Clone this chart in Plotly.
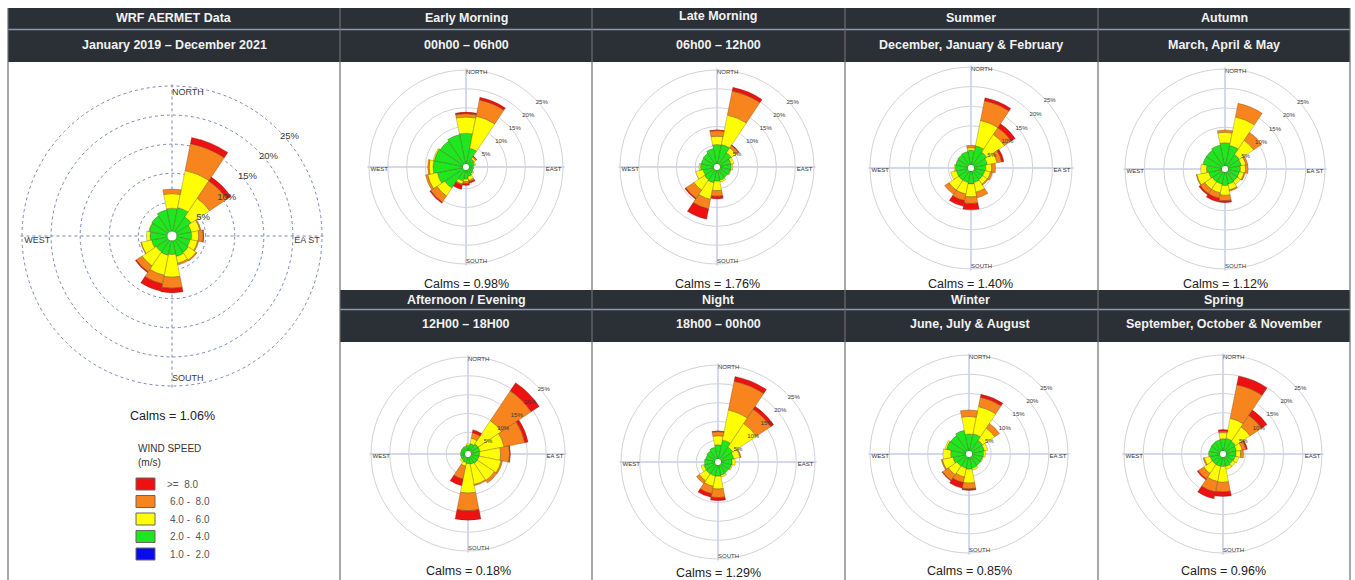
import plotly.graph_objects as go

W, H = 1355, 580

# ---------------- data ----------------
DIRECTIONS = ["N", "NNE", "NE", "ENE", "E", "ESE", "SE", "SSE",
              "S", "SSW", "SW", "WSW", "W", "WNW", "NW", "NNW"]
DIR_DEG = [0, 22.5, 45, 67.5, 90, 112.5, 135, 157.5,
           180, 202.5, 225, 247.5, 270, 292.5, 315, 337.5]

SPEED_CLASSES = [">=\u00a0\u00a08.0", "6.0 -\u00a0\u00a08.0", "4.0 -\u00a0\u00a06.0",
                 "2.0 -\u00a0\u00a04.0", "1.0 -\u00a0\u00a02.0"]
RING_VALUES = [5, 10, 15, 20, 25]
RING_LABELS = ["5%", "10%", "15%", "20%", "25%"]

# frequency (%) per direction, per speed class (2-4, 4-6, 6-8, >=8 m/s)
overall_2_4 = [4.0, 4.2, 3.2, 2.6, 2.6, 2.4, 2.6, 2.8, 2.4, 2.6, 2.5, 2.8, 3.0, 3.2, 3.4, 3.8]
overall_4_6 = [2.5, 6.5, 3.8, 1.5, 1.2, 1.3, 1.6, 1.2, 3.9, 3.5, 2.9, 1.8, 0.6, 0.1, 0.0, 0.0]
overall_6_8 = [0.8, 4.7, 3.6, 0.2, 0.8, 0.2, 0.2, 0.3, 1.9, 1.5, 1.2, 0.1, 0.0, 0.0, 0.0, 0.0]
overall_8p = [0.0, 1.1, 0.8, 0.0, 0.1, 0.0, 0.0, 0.0, 0.8, 1.3, 0.2, 0.0, 0.0, 0.0, 0.0, 0.0]

early_2_4 = [8.2, 4.3, 1.8, 1.5, 1.2, 1.2, 1.4, 1.8, 2.5, 3.0, 6.0, 7.0, 8.0, 7.8, 7.5, 8.0]
early_4_6 = [4.3, 8.7, 0.5, 0.3, 0.0, 0.0, 0.3, 1.0, 0.6, 0.8, 2.5, 2.6, 1.0, 0.3, 0.0, 0.0]
early_6_8 = [0.9, 4.4, 0.3, 0.0, 0.0, 0.0, 0.0, 0.4, 0.5, 0.3, 2.0, 0.6, 0.4, 0.0, 0.0, 0.0]
early_8p = [0.4, 0.7, 0.1, 0.0, 0.0, 0.0, 0.0, 0.4, 0.5, 1.2, 0.3, 0.0, 0.0, 0.0, 0.0, 0.0]

late_2_4 = [5.2, 5.3, 3.8, 3.0, 3.0, 2.8, 2.6, 2.8, 3.0, 3.5, 3.3, 3.0, 3.6, 3.5, 3.6, 4.2]
late_4_6 = [2.2, 8.0, 1.5, 0.8, 0.4, 0.2, 0.0, 0.5, 2.5, 4.5, 3.3, 2.0, 0.4, 0.0, 0.0, 0.0]
late_6_8 = [1.5, 6.5, 0.8, 0.0, 0.0, 0.0, 0.0, 0.0, 1.5, 2.6, 2.6, 0.0, 0.0, 0.0, 0.0, 0.0]
late_8p = [0.2, 1.0, 0.2, 0.0, 0.0, 0.0, 0.0, 0.0, 0.7, 2.8, 0.3, 0.0, 0.0, 0.0, 0.0, 0.0]

summer_2_4 = [3.8, 5.0, 4.1, 3.5, 3.0, 2.8, 2.8, 3.0, 3.3, 3.0, 3.0, 3.0, 3.2, 3.2, 3.3, 3.5]
summer_4_6 = [0.6, 6.6, 5.4, 2.5, 1.5, 1.5, 1.4, 2.5, 3.3, 3.0, 3.0, 1.5, 0.3, 0.0, 0.0, 0.0]
summer_6_8 = [0.6, 5.1, 2.1, 1.2, 1.0, 0.5, 0.3, 1.5, 1.7, 1.7, 1.3, 0.0, 0.0, 0.0, 0.0, 0.0]
summer_8p = [0.0, 0.8, 1.2, 0.6, 0.0, 0.0, 0.0, 0.0, 1.6, 1.5, 0.0, 0.0, 0.0, 0.0, 0.0, 0.0]

autumn_2_4 = [6.0, 5.4, 3.7, 3.5, 3.2, 3.0, 3.0, 3.2, 3.5, 3.2, 3.2, 3.5, 4.0, 5.0, 5.0, 5.5]
autumn_4_6 = [2.7, 7.5, 4.4, 1.2, 1.3, 1.2, 1.0, 1.5, 2.5, 2.3, 2.3, 3.1, 1.5, 0.0, 0.0, 0.0]
autumn_6_8 = [0.6, 3.6, 2.5, 0.5, 0.7, 0.3, 0.0, 0.3, 1.4, 1.4, 1.4, 0.2, 0.0, 0.0, 0.0, 0.0]
autumn_8p = [0.0, 0.0, 0.0, 0.0, 0.0, 0.0, 0.0, 0.0, 0.5, 1.0, 0.4, 0.0, 0.0, 0.0, 0.0, 0.0]

afternoon_2_4 = [1.5, 2.0, 2.5, 2.5, 2.3, 2.2, 2.2, 2.0, 1.8, 1.5, 1.3, 1.2, 1.2, 1.2, 1.3, 1.4]
afternoon_4_6 = [0.4, 1.5, 7.4, 6.5, 5.6, 6.0, 5.5, 5.5, 7.8, 1.0, 0.5, 0.0, 0.0, 0.0, 0.0, 0.0]
afternoon_6_8 = [0.0, 1.5, 9.5, 5.6, 2.4, 0.4, 0.8, 0.3, 4.7, 3.5, 0.0, 0.0, 0.0, 0.0, 0.0, 0.0]
afternoon_8p = [0.0, 0.8, 2.6, 0.9, 0.2, 0.0, 0.0, 0.0, 2.5, 1.8, 0.0, 0.0, 0.0, 0.0, 0.0, 0.0]

night_2_4 = [3.8, 5.2, 4.0, 3.5, 3.0, 2.8, 2.6, 2.8, 3.0, 3.0, 3.0, 3.0, 2.8, 2.6, 2.8, 3.2]
night_4_6 = [2.4, 8.1, 7.5, 1.7, 0.8, 0.3, 0.0, 0.5, 3.4, 2.8, 2.2, 0.8, 0.0, 0.0, 0.0, 0.0]
night_6_8 = [1.1, 7.8, 4.6, 0.3, 0.0, 0.0, 0.0, 0.0, 2.3, 2.0, 0.9, 0.0, 0.0, 0.0, 0.0, 0.0]
night_8p = [0.2, 1.3, 0.9, 0.0, 0.0, 0.0, 0.0, 0.0, 0.8, 1.0, 0.0, 0.0, 0.0, 0.0, 0.0, 0.0]

winter_2_4 = [4.4, 4.6, 3.5, 3.3, 3.0, 2.8, 2.8, 3.0, 3.2, 3.0, 3.0, 3.5, 4.0, 5.2, 5.0, 5.5]
winter_4_6 = [4.6, 7.2, 3.8, 0.9, 0.5, 0.2, 0.0, 0.5, 3.6, 2.3, 2.7, 2.8, 2.0, 0.4, 0.0, 0.0]
winter_6_8 = [1.7, 2.5, 1.5, 0.0, 0.0, 0.0, 0.0, 0.0, 1.5, 1.5, 1.8, 0.3, 0.0, 0.0, 0.0, 0.0]
winter_8p = [0.0, 0.8, 0.0, 0.0, 0.0, 0.0, 0.0, 0.0, 0.4, 1.5, 0.2, 0.0, 0.0, 0.0, 0.0, 0.0]

spring_2_4 = [3.2, 3.4, 3.2, 2.8, 2.6, 2.4, 2.3, 2.5, 2.5, 2.5, 2.5, 2.6, 2.8, 2.8, 2.9, 3.0]
spring_4_6 = [1.6, 5.3, 4.5, 1.5, 1.2, 1.0, 0.8, 0.8, 4.1, 4.0, 2.8, 1.6, 0.2, 0.0, 0.0, 0.0]
spring_6_8 = [0.4, 8.9, 3.6, 1.0, 0.8, 0.0, 0.0, 0.0, 2.5, 2.8, 1.7, 0.3, 0.0, 0.0, 0.0, 0.0]
spring_8p = [0.4, 2.3, 1.7, 0.4, 0.0, 0.0, 0.0, 0.0, 1.2, 1.8, 0.3, 0.0, 0.0, 0.0, 0.0, 0.0]

CALMS = {"overall": "1.06", "early": "0.98", "late": "1.76", "summer": "1.40", "autumn": "1.12",
         "afternoon": "0.18", "night": "1.29", "winter": "0.85", "spring": "0.96"}

# ---------------- styling ----------------
C_GREEN, C_YELLOW, C_ORANGE, C_RED, C_BLUE = "#1fe61f", "#ffff00", "#f7841c", "#ee1111", "#0a0aee"
HEADER_BG = "#2b2f36"
FONT = "Liberation Sans, Arial, sans-serif"
R_MAX = 25.4
HOLE = 0.03
# fraction of the polar radius at which the 25 % ring sits
RING25_FRAC = HOLE + (1 - HOLE) * 25 / R_MAX


def fx(x):
    return x / W


def fy(y):
    return 1 - y / H


roses = [
    # key, series, center x, center y, outer-ring radius (px), main?, east label
    ("overall", (overall_2_4, overall_4_6, overall_6_8, overall_8p), 172, 236, 150, True, "EA ST"),
    ("early", (early_2_4, early_4_6, early_6_8, early_8p), 466, 167, 97, False, "EAST"),
    ("late", (late_2_4, late_4_6, late_6_8, late_8p), 717, 167, 97, False, "EAST"),
    ("summer", (summer_2_4, summer_4_6, summer_6_8, summer_8p), 971, 168, 101, False, "EA ST"),
    ("autumn", (autumn_2_4, autumn_4_6, autumn_6_8, autumn_8p), 1225, 169, 100, False, "EA ST"),
    ("afternoon", (afternoon_2_4, afternoon_4_6, afternoon_6_8, afternoon_8p), 468, 454, 97, False, "EA ST"),
    ("night", (night_2_4, night_4_6, night_6_8, night_8p), 718, 462, 97, False, "EAST"),
    ("winter", (winter_2_4, winter_4_6, winter_6_8, winter_8p), 969, 454, 99, False, "EA ST"),
    ("spring", (spring_2_4, spring_4_6, spring_6_8, spring_8p), 1223, 454, 99, False, "EAST"),
]

fig = go.Figure()
layout_polars = {}
annotations = []
shapes = []

for i, (key, series, cx, cy, R, is_main, east) in enumerate(roses):
    sp = "polar" if i == 0 else f"polar{i + 1}"
    cols = [C_GREEN, C_YELLOW, C_ORANGE, C_RED]
    for vals, col in zip(series, cols):
        fig.add_trace(go.Barpolar(
            r=vals, theta=DIR_DEG, width=[22.5] * len(DIR_DEG),
            marker=dict(color=col, line=dict(color="rgba(70,50,20,0.55)", width=0.5)),
            subplot=sp, showlegend=False, hoverinfo="skip"))
    lab_size = 9 if is_main else 6
    rl = 23.8 if is_main else 24.3
    fig.add_trace(go.Scatterpolar(
        r=[rl, 24.6, rl, 24.6], theta=[0, 90, 180, 270],
        text=["NORTH", east, "SOUTH", "WEST"], mode="text",
        textposition=["middle right", "bottom left", "middle right", "bottom right"],
        textfont=dict(family=FONT, size=lab_size, color="#3a3a3a"),
        subplot=sp, showlegend=False, hoverinfo="skip", cliponaxis=False))
    fig.add_trace(go.Scatterpolar(
        r=RING_VALUES, theta=[46] * len(RING_VALUES), text=RING_LABELS, mode="text",
        textposition="bottom right",
        textfont=dict(family=FONT, size=(9.5 if is_main else 6), color="#3a3a3a"),
        subplot=sp, showlegend=False, hoverinfo="skip", cliponaxis=False))

    if is_main:
        rgrid = dict(gridcolor="#7d86b4", griddash="dot", gridwidth=1)
        agrid = dict(gridcolor="#7d86b4", griddash="dot", gridwidth=1)
    else:
        rgrid = dict(gridcolor="#d2d2da", griddash="solid", gridwidth=1)
        agrid = dict(gridcolor="#a9b0de", griddash="solid", gridwidth=1)

    Rd = R / RING25_FRAC
    layout_polars[sp] = dict(
        domain=dict(x=[fx(cx - Rd), fx(cx + Rd)], y=[fy(cy + Rd), fy(cy - Rd)]),
        bgcolor="rgba(255,255,255,0)", hole=HOLE, barmode="stack", bargap=0,
        radialaxis=dict(range=[0, R_MAX], tickvals=RING_VALUES, showticklabels=False,
                        showline=False, ticks="", **rgrid),
        angularaxis=dict(rotation=90, direction="clockwise", tickmode="array",
                         tickvals=[0, 90, 180, 270], showticklabels=False, ticks="",
                         showline=False, **agrid),
    )

    calm_y = {"overall": 416, "night": 573}.get(key, 284 if cy < 300 else 571)
    annotations.append(dict(
        x=fx(cx), y=fy(calm_y), xref="paper", yref="paper", showarrow=False,
        xanchor="center", yanchor="middle", text=f"Calms = {CALMS[key]}%",
        font=dict(family=FONT, size=12.5, color="#222")))

# ---------------- table frame ----------------
col_edges = [8, 340, 592, 845, 1098, 1350]
shapes.append(dict(type="rect", xref="paper", yref="paper", x0=fx(8), x1=fx(1350), y0=fy(62), y1=fy(8),
                   fillcolor=HEADER_BG, line=dict(width=0), layer="below"))
shapes.append(dict(type="rect", xref="paper", yref="paper", x0=fx(340), x1=fx(1350), y0=fy(342), y1=fy(290),
                   fillcolor=HEADER_BG, line=dict(width=0), layer="below"))
shapes.append(dict(type="line", xref="paper", yref="paper", x0=fx(8), x1=fx(1350), y0=fy(29.5), y1=fy(29.5),
                   line=dict(color="#8d9cac", width=1.5)))
shapes.append(dict(type="line", xref="paper", yref="paper", x0=fx(340), x1=fx(1350), y0=fy(309.5), y1=fy(309.5),
                   line=dict(color="#8d9cac", width=1.5)))
for xe in col_edges:
    shapes.append(dict(type="line", xref="paper", yref="paper", x0=fx(xe), x1=fx(xe), y0=fy(580), y1=fy(8),
                       line=dict(color="#6e6e6e", width=1.2)))

head_cols = [174, 466, 718, 971, 1224]
row1_titles = ["WRF AERMET Data", "Early Morning", "Late Morning", "Summer", "Autumn"]
row1_subs = ["January 2019 \u2013 December 2021", "00h00 \u2013 06h00", "06h00 \u2013 12h00",
             "December, January & February", "March, April & May"]
row2_titles = ["Afternoon / Evening", "Night", "Winter", "Spring"]
row2_subs = ["12H00 \u2013 18H00", "18h00 \u2013 00h00", "June, July & August",
             "September, October & November"]

for j, (t, s) in enumerate(zip(row1_titles, row1_subs)):
    ty = 16 if t == "Late Morning" else 18
    annotations.append(dict(x=fx(head_cols[j]), y=fy(ty), xref="paper", yref="paper", showarrow=False,
                            xanchor="center", yanchor="middle", text=f"<b>{t}</b>",
                            font=dict(family=FONT, size=12.5, color="#f2f2f2")))
    annotations.append(dict(x=fx(head_cols[j]), y=fy(45), xref="paper", yref="paper", showarrow=False,
                            xanchor="center", yanchor="middle", text=f"<b>{s}</b>",
                            font=dict(family=FONT, size=12.5, color="#f2f2f2")))
for j, (t, s) in enumerate(zip(row2_titles, row2_subs)):
    annotations.append(dict(x=fx(head_cols[j + 1]), y=fy(300), xref="paper", yref="paper", showarrow=False,
                            xanchor="center", yanchor="middle", text=f"<b>{t}</b>",
                            font=dict(family=FONT, size=12.5, color="#f2f2f2")))
    annotations.append(dict(x=fx(head_cols[j + 1]), y=fy(324), xref="paper", yref="paper", showarrow=False,
                            xanchor="center", yanchor="middle", text=f"<b>{s}</b>",
                            font=dict(family=FONT, size=12.5, color="#f2f2f2")))

# ---------------- wind speed legend ----------------
annotations.append(dict(x=fx(136), y=fy(448), xref="paper", yref="paper", showarrow=False,
                        xanchor="left", yanchor="middle", text="WIND SPEED",
                        font=dict(family=FONT, size=10, color="#333")))
annotations.append(dict(x=fx(136), y=fy(462), xref="paper", yref="paper", showarrow=False,
                        xanchor="left", yanchor="middle", text="(m/s)",
                        font=dict(family=FONT, size=10, color="#333")))
legend_colors = [C_RED, C_ORANGE, C_YELLOW, C_GREEN, C_BLUE]
for k, (lab, col) in enumerate(zip(SPEED_CLASSES, legend_colors)):
    top = 478 + k * 17.5
    shapes.append(dict(type="rect", xref="paper", yref="paper", x0=fx(136), x1=fx(155),
                       y0=fy(top + 12), y1=fy(top), fillcolor=col, line=dict(color="#666", width=1)))
    annotations.append(dict(x=fx(165 if k == 0 else 168), y=fy(top + 6), xref="paper", yref="paper",
                            showarrow=False, xanchor="left", yanchor="middle", text=lab,
                            font=dict(family=FONT, size=10, color="#555")))

fig.update_layout(
    width=W, height=H, margin=dict(l=0, r=0, t=0, b=0),
    paper_bgcolor="white", plot_bgcolor="white",
    shapes=shapes, annotations=annotations, showlegend=False,
    **layout_polars,
)

fig.write_html("out.html")
